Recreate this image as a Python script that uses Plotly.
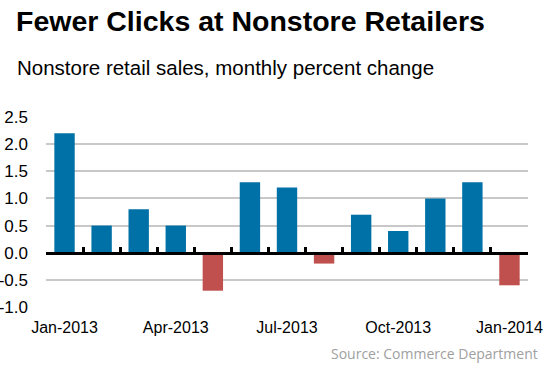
import plotly.graph_objects as go

months = ["Jan-2013", "Feb-2013", "Mar-2013", "Apr-2013", "May-2013", "Jun-2013",
          "Jul-2013", "Aug-2013", "Sep-2013", "Oct-2013", "Nov-2013", "Dec-2013", "Jan-2014"]
values = [2.2, 0.5, 0.8, 0.5, -0.7, 1.3, 1.2, -0.2, 0.7, 0.4, 1.0, 1.3, -0.6]
tick_months = ["Jan-2013", "Apr-2013", "Jul-2013", "Oct-2013", "Jan-2014"]
y_ticks = [-1.0, -0.5, 0.0, 0.5, 1.0, 1.5, 2.0, 2.5]

BLUE = "#0071A6"
RED = "#C0504D"
colors = [BLUE if v >= 0 else RED for v in values]

ymin, ymax = -1.0, 2.5
W, H = 553, 369
ML, MR, MT, MB = 46, 25, 117, 62

fig = go.Figure()
fig.add_trace(go.Bar(x=months, y=values, marker=dict(color=colors, line=dict(width=0)),
                     xaxis="x", yaxis="y", hoverinfo="x+y"))
# invisible trace to drive the zero-line axis with boundary ticks
fig.add_trace(go.Scatter(x=months, y=[0] * len(months), mode="markers",
                         marker=dict(opacity=0), xaxis="x2", yaxis="y",
                         hoverinfo="skip", showlegend=False))

fig.update_layout(
    width=W, height=H,
    margin=dict(l=ML, r=MR, t=MT, b=MB, autoexpand=False),
    paper_bgcolor="white", plot_bgcolor="white",
    showlegend=False, hovermode=False,
    bargap=0.45,
    font=dict(family="Liberation Sans, Arial, sans-serif", color="black"),
    xaxis=dict(type="category", categoryorder="array", categoryarray=months,
               tickmode="array", tickvals=tick_months, ticktext=tick_months,
               showgrid=False, showline=False, ticks="", zeroline=False,
               automargin=False, ticklabelstandoff=9,
               tickfont=dict(size=16, color="black"), range=[-0.5, 12.5]),
    xaxis2=dict(type="category", categoryorder="array", categoryarray=months,
                overlaying="x", anchor="free", position=(0 - ymin) / (ymax - ymin),
                side="bottom", showline=True, linecolor="black", linewidth=3,
                ticks="inside", tickson="boundaries", ticklen=5, tickwidth=3,
                tickcolor="black", showticklabels=False, showgrid=False,
                automargin=False, range=[-0.5, 12.5]),
    yaxis=dict(range=[ymin, ymax], tickmode="array", tickvals=y_ticks,
               ticktext=[f"{v:.1f}" for v in y_ticks],
               showgrid=True, gridcolor="#C8C8C8", gridwidth=2,
               zeroline=False, showline=False, ticks="", automargin=False,
               tickfont=dict(size=17, color="black"), ticklabelstandoff=17),
)

ph = H - MT - MB
pw = W - ML - MR
def px(xp): return (xp - ML) / pw
def py(yp): return (H - MB - yp) / ph

fig.add_annotation(text="<b>Fewer Clicks at Nonstore Retailers</b>", x=px(14), y=py(21),
                   xref="paper", yref="paper", xanchor="left", yanchor="middle",
                   showarrow=False, font=dict(size=28.5, color="black",
                   family="Liberation Sans, Arial, sans-serif"))
fig.add_annotation(text="Nonstore retail sales, monthly percent change", x=px(15), y=py(67),
                   xref="paper", yref="paper", xanchor="left", yanchor="middle",
                   showarrow=False, font=dict(size=20.5, color="black",
                   family="Liberation Sans, Arial, sans-serif"))
fig.add_annotation(text="Source: Commerce Department", x=px(540), y=py(353),
                   xref="paper", yref="paper", xanchor="right", yanchor="middle",
                   showarrow=False, font=dict(size=14, color="#A0A0A0",
                   family="Open Sans, sans-serif"))

fig.write_html("out.html", config={"displayModeBar": False, "staticPlot": True},
               post_script="document.body.style.margin='0';document.body.style.overflow='hidden';")
